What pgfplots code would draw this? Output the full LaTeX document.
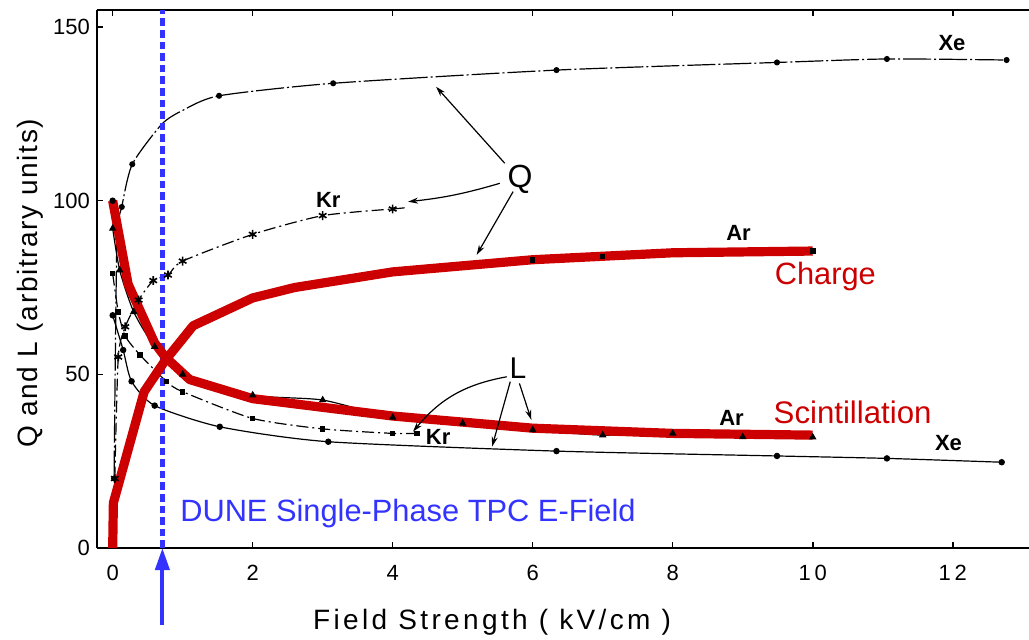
\documentclass[border=0pt]{standalone}
\usepackage{fontspec}
\setmainfont{Liberation Sans}
\usepackage{pgfplots}
\pgfplotsset{compat=1.18}
\usetikzlibrary{arrows.meta,calc}
\definecolor{chg}{RGB}{204,0,0}
\definecolor{dune}{RGB}{51,51,255}
\begin{document}
\begin{tikzpicture}
\begin{axis}[
  name=ax,
  scale only axis,
  width=466pt, height=269pt,
  xmin=-0.224, xmax=13.09,
  ymin=0, ymax=154.9,
  axis x line*=box, axis y line*=left,
  x axis line style={-}, y axis line style={-},
  axis line style={line width=1pt},
  tick align=inside,
  major tick length=3pt,
  tick style={line width=0.8pt,black},
  xtick={0,2,4,6,8,10,12},
  xticklabels={0,2,4,6,8,1\,0,1\,2},
  ytick={0,50,100,150},
  tick label style={font=\fontsize{11}{13}\selectfont},
  xticklabel style={yshift=-5pt},
  /pgf/number format/assume math mode=true,
  clip=false,
  every axis plot/.append style={line width=0.6pt},
]
% Q curves (original black)
\addplot[black,smooth,tension=0.4,dash pattern=on 14pt off 1.5pt on 1pt off 1.5pt,
  mark=*,mark size=1.2pt,mark options={solid},mark indices={1,3,4,7,8,9,10,11,12}] coordinates {
  (0.02,20) (0.06,88) (0.13,98.2) (0.28,110.5) (0.7,122) (1.0,126) (1.52,130.2)
  (3.15,133.8) (6.34,137.6) (9.49,139.8) (11.06,140.8) (12.77,140.5)};
\addplot[black,smooth,tension=0.4,dash pattern=on 6pt off 2pt on 1pt off 2pt,
  mark=asterisk,mark size=2.2pt,mark options={solid,line width=0.8pt}] coordinates {
  (0.03,20) (0.08,55) (0.18,63.7) (0.37,71.4) (0.58,77) (0.79,78.6) (1.0,82.6)
  (2.0,90.3) (3.0,95.7) (4.0,97.6)};
\addplot[black,no marks,dash pattern=on 6pt off 2pt on 1pt off 2pt] coordinates {(4.0,97.6) (4.2,98)};
\addplot[black,
  mark=square*,mark size=1.1pt,mark indices={8,9,11}] coordinates {
  (0.01,13) (0.45,45) (0.75,54) (1.15,64) (2.0,72) (2.6,75) (4.0,79.5)
  (6.0,83) (7.0,83.9) (8.0,85) (10,85.5)};
% L curves (original black)
\addplot[black,smooth,tension=0.4,
  mark=triangle*,mark size=1.6pt] coordinates {
  (0,92) (0.1,80) (0.3,68) (0.6,58) (1.0,50) (2.0,44) (3,42.6) (4,37.6)
  (5,35.9) (6,34) (7,32.5) (8,33) (9,32) (10,31.9)};
\addplot[black,smooth,tension=0.4,dash pattern=on 6pt off 2pt on 1pt off 2pt,
  mark=square*,mark size=1.1pt,mark options={solid}] coordinates {
  (0,79) (0.08,68) (0.18,61) (0.39,55.6) (0.77,47.9) (1.0,45) (2.0,37.3)
  (3.0,34.3) (4.0,33.0) (4.35,33)};
\addplot[black,smooth,tension=0.4,
  mark=*,mark size=1.3pt] coordinates {
  (0,67) (0.15,57) (0.27,48) (0.6,41) (1.53,34.9) (3.08,30.6) (6.34,27.9)
  (9.49,26.5) (11.06,25.8) (12.7,24.7)};
\addplot[black,only marks,mark=*,mark size=1.3pt] coordinates {(0,100)};
% DUNE field marker
\addplot[dune,line width=2.4pt,dash pattern=on 3.8pt off 2pt,no marks]
  coordinates {(0.71,0) (0.71,154.9)};
\addplot[dune,line width=2pt,no marks,-{Triangle[length=11pt,width=7pt]}]
  coordinates {(0.71,-22.2) (0.71,0)};
% red overlays
\addplot[chg,line width=4.6pt,no marks,line join=round] coordinates {
  (0,0) (0.01,13) (0.45,45) (0.75,54) (1.15,64) (2.0,72) (2.6,75) (4.0,79.5)
  (6.0,83) (8.0,85) (10,85.5)};
\addplot[chg,line width=4.6pt,no marks,line join=round] coordinates {
  (0,100) (0.22,76) (0.6,59) (0.75,55) (1.1,48.5) (2,43) (4,38) (6,34.5)
  (8,33) (10,32.5)};
% labels
\node[font=\fontsize{11}{13}\selectfont\bfseries] at (axis cs:11.99,145.4) {Xe};
\node[font=\fontsize{11}{13}\selectfont\bfseries] at (axis cs:3.08,100.2) {Kr};
\node[font=\fontsize{11}{13}\selectfont\bfseries] at (axis cs:8.94,90.6) {Ar};
\node[font=\fontsize{11}{13}\selectfont\bfseries] at (axis cs:4.65,32.1) {Kr};
\node[font=\fontsize{11}{13}\selectfont\bfseries] at (axis cs:8.84,37.4) {Ar};
\node[font=\fontsize{11}{13}\selectfont\bfseries] at (axis cs:11.94,30.1) {Xe};
\node[font=\fontsize{16}{18}\selectfont] at (axis cs:5.82,106) {Q};
\node[font=\fontsize{15}{17}\selectfont] at (axis cs:5.79,51.7) {L};
\draw[-{Stealth[length=5pt,width=3pt]},line width=0.6pt] (axis cs:5.6,110.8) -- (axis cs:4.62,132.8);
\draw[-{Stealth[length=5pt,width=3pt]},line width=0.6pt] (axis cs:5.53,105) to[bend left=5] (axis cs:4.22,99.7);
\draw[-{Stealth[length=5pt,width=3pt]},line width=0.6pt] (axis cs:5.72,102.6) -- (axis cs:5.2,84.4);
\draw[-{Stealth[length=5pt,width=3pt]},line width=0.6pt] (axis cs:5.63,49.3) to[bend right=20] (axis cs:4.29,33.5);
\draw[-{Stealth[length=5pt,width=3pt]},line width=0.6pt] (axis cs:5.68,47.9) -- (axis cs:5.42,29.2);
\draw[-{Stealth[length=5pt,width=3pt]},line width=0.6pt] (axis cs:5.81,47.4) -- (axis cs:5.98,36.9);
\node[chg,font=\fontsize{15.4}{17}\selectfont] at (axis cs:10.18,78.1) {Charge};
\node[chg,font=\fontsize{15.6}{17}\selectfont] at (axis cs:10.57,39.2) {Scintillation};
\node[dune,anchor=west,inner sep=0pt,font=\fontsize{15.4}{17}\selectfont] at (axis cs:0.96,10) {DUNE Single-Phase TPC E-Field};
\node[font=\fontsize{14}{16}\selectfont\addfontfeature{LetterSpace=12}] at (axis cs:5.42,-21.3) {Field Strength ( kV/cm )};
\node[rotate=90,font=\fontsize{14}{16}\selectfont\addfontfeature{LetterSpace=6}] at (axis cs:-1.18,76.2) {Q and L (arbitrary units)};
\end{axis}
\pgfresetboundingbox
\path[use as bounding box] ($(ax.south west)+(-48.5pt,-45.5pt)$) rectangle ($(ax.north east)+(0,5pt)$);
\end{tikzpicture}
\end{document}
